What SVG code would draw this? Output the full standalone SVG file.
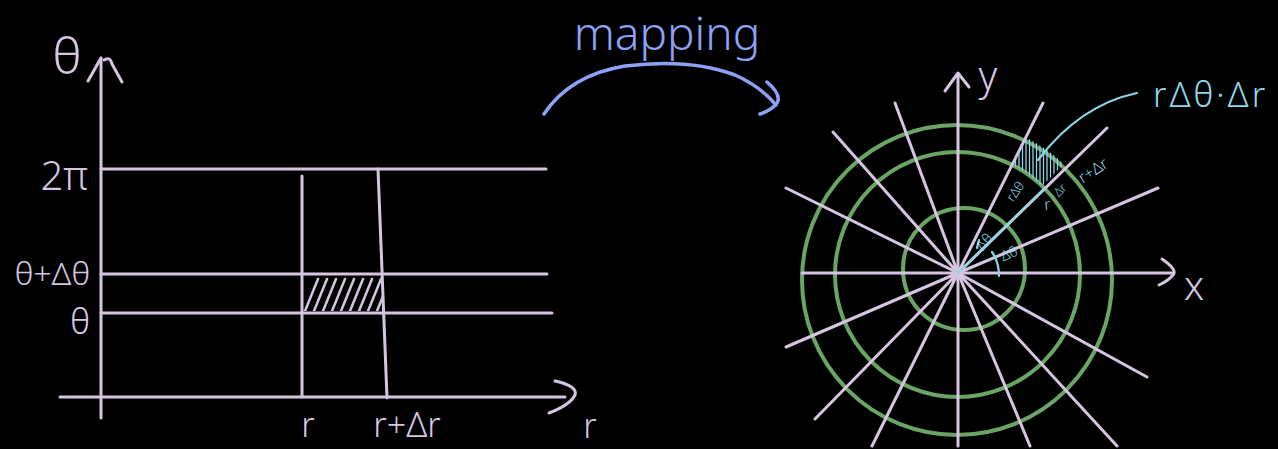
<svg xmlns="http://www.w3.org/2000/svg" width="1278" height="449" viewBox="0 0 1278 449">
<style>
.bg{fill:#000}
.ln{stroke:#d5c5e0;stroke-width:3;fill:none;stroke-linecap:round;stroke-linejoin:round}
.hl{stroke:#d5c5e0;stroke-width:2.5;fill:none;stroke-linecap:round}
.gc{stroke:#6aa566;stroke-width:4;fill:none}
.cy{stroke:#8fd6e9;stroke-width:2.2;fill:none;stroke-linecap:round}
.ch{stroke:#8fd6e9;stroke-width:1.3;fill:none}
.bl{stroke:#8da2f6;stroke-width:3.5;fill:none;stroke-linecap:round;stroke-linejoin:round}
.tp{fill:#d5c5e0;font-family:"Noto Sans","DejaVu Sans",sans-serif;font-weight:300}
.tb{fill:#8da2f6;font-family:"Noto Sans","DejaVu Sans",sans-serif;font-weight:300}
.tc{fill:#8fd6e9;font-family:"Noto Sans","DejaVu Sans",sans-serif;font-weight:300}
</style>
<defs>
<clipPath id="polarHatchClip">
<path d="M1013,165 A121,121 0 0 1 1042,186 L1064,164 A152,152 0 0 0 1027,138 Z"/>
</clipPath>
<clipPath id="rectHatchClip">
<rect x="303" y="276" width="80" height="35"/>
</clipPath>
</defs>
<rect class="bg" x="0" y="0" width="1278" height="449"/>

<g id="left-chart">
<line class="ln" x1="101" y1="58" x2="101" y2="418"/>
<path class="ln" d="M88,81 L101,58 M104,60 Q110,56 112,64 L122,82"/>
<line class="ln" x1="60" y1="397" x2="565" y2="397"/>
<path class="ln" d="M555,381 Q578,386 575,395 Q570,405 549,413"/>
<line class="ln" x1="101" y1="169" x2="546" y2="169"/>
<line class="ln" x1="101" y1="274" x2="547" y2="274"/>
<line class="ln" x1="101" y1="313" x2="552" y2="313"/>
<line class="ln" x1="302" y1="176" x2="302" y2="397"/>
<line class="ln" x1="378" y1="169" x2="387" y2="398"/>
<g clip-path="url(#rectHatchClip)">
<path class="hl" d="M305,311 L318,279 M314,311 L327,279 M323,311 L336,279 M332,311 L345,279 M341,311 L354,279 M350,311 L363,279 M359,311 L372,279 M368,311 L381,279 M377,311 L390,279"/>
</g>
<text class="tp" x="67" y="74" font-size="50" text-anchor="middle">θ</text>
<text class="tp" x="88" y="190" font-size="40" text-anchor="end">2π</text>
<text class="tp" x="90" y="285" font-size="32" text-anchor="end">θ+Δθ</text>
<text class="tp" x="90" y="334" font-size="34" text-anchor="end">θ</text>
<text class="tp" x="308" y="437" font-size="34" text-anchor="middle">r</text>
<text class="tp" x="407" y="437" font-size="34" text-anchor="middle">r+Δr</text>
<text class="tp" x="590" y="438" font-size="34" text-anchor="middle">r</text>
</g>

<g id="mapping-label">
<text class="tb" x="667" y="50" font-size="46" text-anchor="middle">mapping</text>
</g>

<g id="polar-chart">
<circle class="gc" cx="964" cy="269" r="61"/>
<circle class="gc" cx="957.5" cy="274.5" r="122.5"/>
<circle class="gc" cx="957" cy="280" r="155"/>
<line class="ln" x1="958" y1="74" x2="958" y2="446"/>
<path class="ln" d="M945,91 L958,73 L969,87"/>
<line class="ln" x1="802" y1="273" x2="1172" y2="273"/>
<path class="ln" d="M1162,259 Q1178,270 1173,275 Q1168,281 1159,285"/>
<path class="ln" d="M958,273 L1043,103 M958,273 L1107,128 M958,273 L1158,188 M958,273 L1147,377 M958,273 L1117,446 M958,273 L1030,446 M958,273 L872,446 M958,273 L815,419 M958,273 L786,347 M958,273 L786,188 M958,273 L833,132 M958,273 L895,103"/>
<g clip-path="url(#polarHatchClip)">
<path class="ch" d="M1012,130 V200 M1015.5,130 V200 M1019,130 V200 M1022.5,130 V200 M1026,130 V200 M1029.5,130 V200 M1033,130 V200 M1036.5,130 V200 M1040,130 V200 M1043.5,130 V200 M1047,130 V200 M1050.5,130 V200 M1054,130 V200 M1057.5,130 V200 M1061,130 V200"/>
</g>
<path class="cy" d="M958,273 L1045,188"/>
<path class="cy" d="M1038,160 Q1080,105 1137,93"/>
<path class="cy" d="M999,276 Q999,262 992,252"/>
<path class="cy" d="M979,240 L977,248"/>
<text class="tp" x="988" y="90" font-size="40" text-anchor="middle">y</text>
<text class="tp" x="1194" y="300" font-size="40" text-anchor="middle">x</text>
<text class="tc" x="1153" y="107" font-size="34" letter-spacing="3">rΔθ·Δr</text>
<text class="tc" transform="translate(1019,194) rotate(-55)" font-size="13" text-anchor="middle">rΔθ</text>
<text class="tc" transform="translate(1048,210) rotate(-5)" font-size="16" text-anchor="middle">r</text>
<text class="tc" transform="translate(1063,193) rotate(-45)" font-size="12" text-anchor="middle">Δr</text>
<text class="tc" transform="translate(1096,175) rotate(-33)" font-size="16" text-anchor="middle">r+Δr</text>
<text class="tc" transform="translate(988,245) rotate(-50)" font-size="14" text-anchor="middle">Δθ</text>
<text class="tc" transform="translate(1011,258) rotate(-22)" font-size="14" text-anchor="middle">Δθ</text>
</g>

<g id="connectors">
<path class="bl" d="M544,114 Q570,75 625,66 Q690,58 735,75 Q760,86 776,105"/>
<path class="bl" d="M767,82 Q782,95 777,103 Q772,110 760,114"/>
</g>
</svg>
